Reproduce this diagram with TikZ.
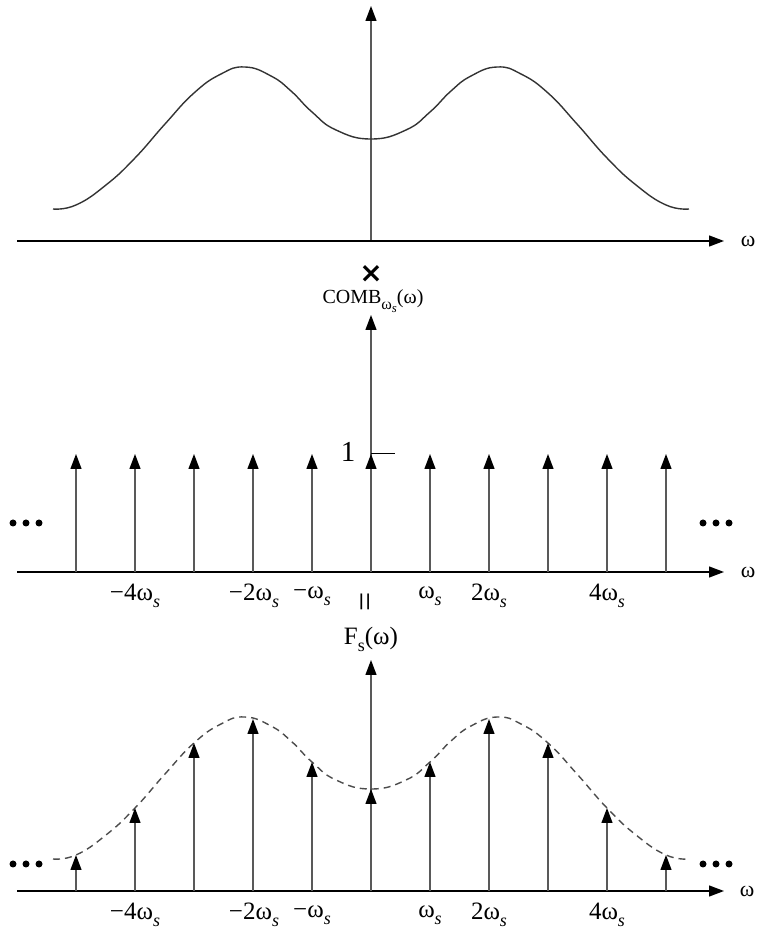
\documentclass[tikz,border=0pt]{standalone}
\usepackage{fontspec}
\setmainfont{Liberation Serif}
\newfontfamily\symfont{DejaVu Sans}
\usetikzlibrary{arrows.meta}
\newcommand{\sbs}[1]{\raisebox{-0.28em}{\scalebox{0.72}{#1}}}
\newcommand{\ws}{ω\sbs{\textit{s}}}
\begin{document}
\begin{tikzpicture}[x=1pt,y=1pt,
  tip/.style={-{Triangle[length=15pt,width=11pt,color=black]}},
  haxis/.style={line width=1.3pt, black, tip},
  vaxis/.style={line width=1.3pt, black!65, tip},
  impulse/.style={line width=1.3pt, black!65, tip},
  tick/.style={line width=1pt, black},
  lbl/.style={font=\fontsize{25}{28}\selectfont, inner sep=0pt},
  wlbl/.style={font=\fontsize{22}{24}\selectfont, inner sep=0pt},
  dot/.style={circle, fill=black, inner sep=0pt, minimum size=7pt},
  spectrum/.style={line width=1.4pt, black!80},
  dspectrum/.style={line width=1.4pt, black!70, dash pattern=on 7pt off 5pt}
]
\useasboundingbox (0,0) rectangle (758,930);

% ---------------- top panel ----------------
\coordinate (tA0) at (17,689);
\coordinate (tA1) at (724,689);
\coordinate (tV0) at (371,689);
\coordinate (tV1) at (371,924);
\draw[vaxis] (tV0) -- (tV1);
\draw[haxis] (tA0) -- (tA1);
\node[wlbl] (tW) at (748,689) {ω};
\begin{scope}[shift={(371,689)}]
\draw[spectrum] plot[smooth, tension=0.8] coordinates {(-318,32) (-295,36) (-265,56) (-236,83) (-206,117) (-177,148) (-150,167) (-126,174) (-100,165) (-80,150) (-59,129) (-35,111) (0,102) (35,111) (59,129) (80,150) (100,165) (126,174) (150,167) (177,148) (206,117) (236,83) (265,56) (295,36) (318,32)};
\end{scope}

\node[font=\symfont\bfseries\fontsize{28}{30}\selectfont, inner sep=0pt] (times) at (371,656) {×};

% ---------------- middle panel ----------------
\node[font=\fontsize{20}{23}\selectfont, inner sep=0pt] (comb) at (373,629) {COMB\raisebox{-0.3em}{\scalebox{0.8}{ω\raisebox{-0.2em}{\scalebox{0.8}{\textit{s}}}}}(ω)};
\coordinate (mA0) at (17,358);
\coordinate (mA1) at (724,358);
\coordinate (mV0) at (371,358);
\coordinate (mV1) at (371,615);
\draw[vaxis] (mV0) -- (mV1);
\draw[haxis] (mA0) -- (mA1);
\node[wlbl] (mW) at (748,358) {ω};
\foreach \k in {-5,...,5}{
  \coordinate (mb\k) at ({371+59*\k},358);
  \coordinate (mt\k) at ({371+59*\k},476);
  \draw[impulse] (mb\k) -- (mt\k);
}
\coordinate (tick0) at (371,476);
\coordinate (tick1) at (395,476);
\draw[tick] (tick0) -- (tick1);
\node[font=\fontsize{29}{31}\selectfont, inner sep=0pt] (one) at (348,478) {1};
\node[dot] (ml1) at (13,407) {};
\node[dot] (ml2) at (26,407) {};
\node[dot] (ml3) at (39,407) {};
\node[dot] (mr1) at (703,407) {};
\node[dot] (mr2) at (716,407) {};
\node[dot] (mr3) at (729,407) {};
\node[lbl] (mlb4) at (135,334) {−4\ws};
\node[lbl] (mlb2) at (254,334) {−2\ws};
\node[lbl] (mlb1) at (312,334) {−\ws};
\node[lbl] (mp1) at (430,334) {\ws};
\node[lbl] (mp2) at (489,334) {2\ws};
\node[lbl] (mp4) at (607,334) {4\ws};
\node[font=\fontsize{34}{36}\selectfont, inner sep=0pt, rotate=90] (eq) at (369,328) {=};

% ---------------- bottom panel ----------------
\node[font=\fontsize{25}{28}\selectfont, inner sep=0pt] (fs) at (371,291) {F\sbs{s}(ω)};
\coordinate (bA0) at (17,39);
\coordinate (bA1) at (724,39);
\coordinate (bV0) at (371,39);
\coordinate (bV1) at (371,270);
\draw[vaxis] (bV0) -- (bV1);
\draw[haxis] (bA0) -- (bA1);
\node[wlbl] (bW) at (747,39) {ω};
\begin{scope}[shift={(371,39)}]
\draw[dspectrum] plot[smooth, tension=0.8] coordinates {(-318,32) (-295,36) (-265,56) (-236,83) (-206,117) (-177,148) (-150,167) (-126,174) (-100,165) (-80,150) (-59,129) (-35,111) (0,102) (35,111) (59,129) (80,150) (100,165) (126,174) (150,167) (177,148) (206,117) (236,83) (265,56) (295,36) (318,32)};
\end{scope}
\foreach \k/\h in {-5/36,-4/83,-3/148,-2/172,-1/129,0/102,1/129,2/172,3/148,4/83,5/36}{
  \coordinate (bb\k) at ({371+59*\k},39);
  \coordinate (bt\k) at ({371+59*\k},{39+\h});
  \draw[impulse] (bb\k) -- (bt\k);
}
\node[dot] (bl1) at (13,66) {};
\node[dot] (bl2) at (26,66) {};
\node[dot] (bl3) at (39,66) {};
\node[dot] (br1) at (703,66) {};
\node[dot] (br2) at (716,66) {};
\node[dot] (br3) at (729,66) {};
\node[lbl] (blb4) at (135,15) {−4\ws};
\node[lbl] (blb2) at (254,15) {−2\ws};
\node[lbl] (blb1) at (312,15) {−\ws};
\node[lbl] (bp1) at (430,15) {\ws};
\node[lbl] (bp2) at (489,15) {2\ws};
\node[lbl] (bp4) at (607,15) {4\ws};
\end{tikzpicture}
\end{document}
